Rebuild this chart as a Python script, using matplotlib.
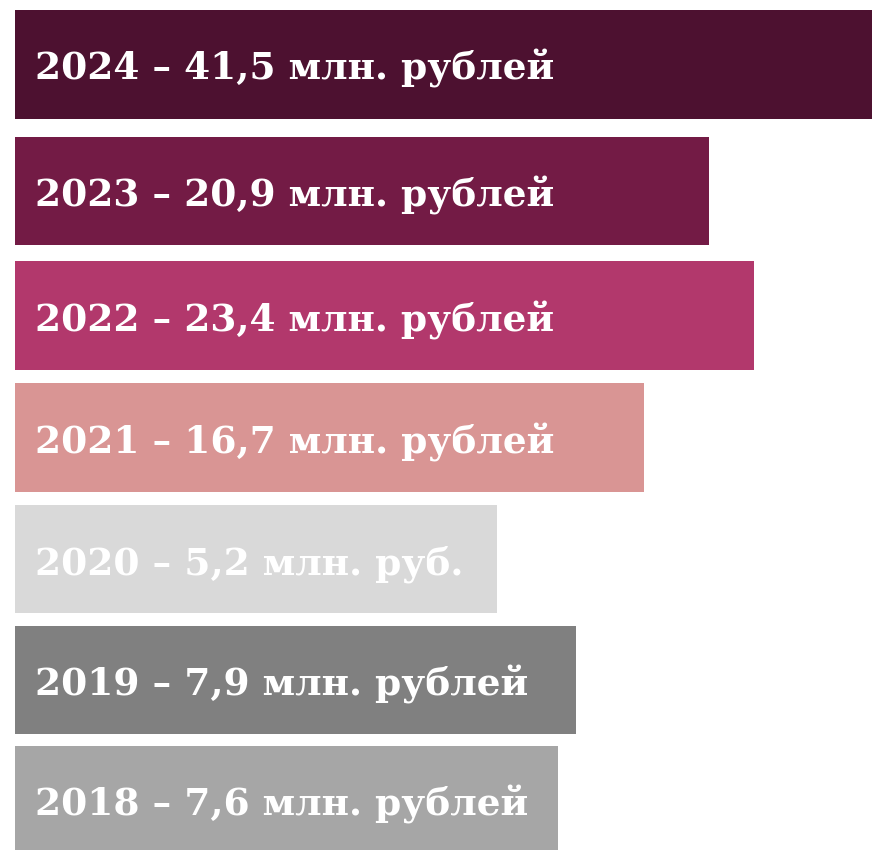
import matplotlib
matplotlib.use("Agg")
import matplotlib.pyplot as plt

labels = ["2024 – 41,5 млн. рублей", "2023 – 20,9 млн. рублей", "2022 – 23,4 млн. рублей",
          "2021 – 16,7 млн. рублей", "2020 – 5,2 млн. руб.", "2019 – 7,9 млн. рублей",
          "2018 – 7,6 млн. рублей"]
values = [41.5, 20.9, 23.4, 16.7, 5.2, 7.9, 7.6]
# displayed bar lengths (infographic, not proportional to values)
bar_lengths = [857, 694, 739, 629, 482, 561, 543]
colors = ["#4D1130", "#731B45", "#B2386C", "#D99594", "#D9D9D9", "#808080", "#A6A6A6"]

# layout: row centres (pixel units from top) and bar height
row_centres = [64.4, 191.0, 315.5, 437.5, 559.0, 680.0, 800.5]
bar_height = 108.5

fig = plt.figure(figsize=(8.72, 8.5), dpi=100)
ax = fig.add_axes([0, 0, 1, 1])
ax.barh(row_centres, bar_lengths, height=bar_height, color=colors, left=0)
for yc, lab in zip(row_centres, labels):
    ax.text(20, yc + 15.5, lab, color="white", fontsize=27, fontweight="bold",
            family="DejaVu Serif", va="baseline", ha="left")
ax.set_xlim(-15, 857)
ax.set_ylim(850, 0)
ax.axis("off")
fig.savefig("out.png", dpi=100)
